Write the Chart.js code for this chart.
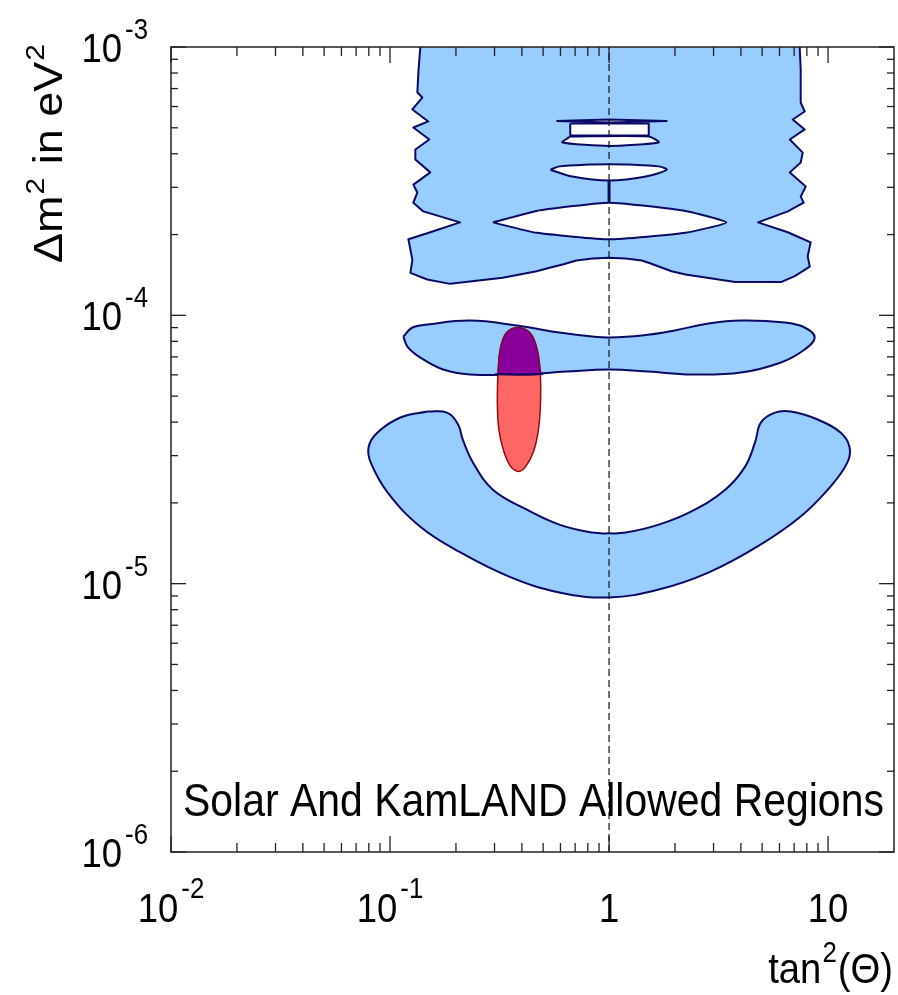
<!DOCTYPE html>
<html>
<head>
<meta charset="utf-8">
<script src="https://cdn.jsdelivr.net/npm/chart.js@4.4.1/dist/chart.umd.min.js"></script>
<style>
  html, body { margin: 0; padding: 0; background: #ffffff; }
  canvas { display: block; }
</style>
</head>
<body>
<canvas id="chart" width="898" height="995"></canvas>
<script>
// Contour vertices as [tan^2(theta), delta m^2 in eV^2]

// Solar allowed region, upper (above 1e-4 eV^2)
const upperRegion = [
  [0.1375, 1.2e-3], [0.1375, 1.0e-3], [0.1347, 8.04e-4], [0.1333, 6.77e-4], [0.1404, 6.48e-4],
  [0.1265, 5.85e-4], [0.1495, 5.28e-4], [0.1278, 5.01e-4], [0.1511, 4.52e-4], [0.1305, 4.15e-4],
  [0.1305, 3.81e-4], [0.1527, 3.41e-4], [0.1278, 3.07e-4], [0.1333, 2.87e-4], [0.1278, 2.63e-4],
  [0.1419, 2.44e-4], [0.2087, 2.22e-4], [0.1527, 2.04e-4], [0.1213, 1.92e-4], [0.1239, 1.76e-4],
  [0.1265, 1.61e-4], [0.1239, 1.44e-4], [0.1479, 1.36e-4], [0.1881, 1.31e-4], [0.327, 1.38e-4],
  [0.467, 1.46e-4], [0.53, 1.50e-4], [0.62, 1.55e-4], [0.709, 1.60e-4], [0.84, 1.63e-4],
  [1.0, 1.64e-4], [1.19, 1.63e-4], [1.411, 1.60e-4], [1.55, 1.56e-4], [1.686, 1.52e-4],
  [1.93, 1.46e-4], [2.235, 1.42e-4], [3.767, 1.33e-4], [6.09, 1.33e-4], [7.05, 1.40e-4],
  [8.25, 1.52e-4], [8.07, 1.66e-4], [8.33, 1.87e-4], [6.55, 2.04e-4], [4.79, 2.22e-4],
  [6.55, 2.44e-4], [7.74, 2.63e-4], [7.50, 2.77e-4], [7.91, 3.02e-4], [6.69, 3.41e-4],
  [7.50, 3.71e-4], [7.66, 4.04e-4], [6.69, 4.52e-4], [7.82, 4.93e-4], [6.90, 5.37e-4],
  [7.82, 5.75e-4], [7.50, 6.21e-4], [7.50, 8.24e-4], [7.42, 1.0e-3], [7.42, 1.2e-3]
];

// Excluded islands inside the upper region
const holeWide = [
  [0.295, 2.22e-4], [0.467, 2.45e-4], [1.0, 2.63e-4], [2.235, 2.45e-4],
  [3.43, 2.22e-4], [2.235, 2.03e-4], [1.0, 1.92e-4], [0.467, 2.03e-4]
];
const holeMid = [
  [0.540, 3.49e-4], [0.593, 3.59e-4], [0.811, 3.65e-4], [1.0, 3.66e-4], [1.232, 3.65e-4],
  [1.686, 3.59e-4], [1.832, 3.49e-4], [1.472, 3.29e-4], [1.0, 3.18e-4], [0.679, 3.29e-4]
];
const holeNeck = [[1.0, 2.63e-4], [1.0, 3.18e-4]];
const holeBar = [[0.575, 5.30e-4], [1.0, 5.37e-4], [1.832, 5.30e-4], [1.0, 5.23e-4]];
const holeBox = [[0.665, 5.19e-4], [1.518, 5.19e-4], [1.518, 4.68e-4], [0.665, 4.68e-4]];
const holeLow = [[0.665, 4.64e-4], [1.518, 4.64e-4], [1.686, 4.41e-4], [1.0, 4.28e-4], [0.612, 4.41e-4]];

// Solar allowed region, middle band (~6e-5 .. 1e-4 eV^2)
const middleBand = [
  [0.1151, 8.34e-5], [0.1265, 9.01e-5], [0.1479, 9.24e-5], [0.232, 9.56e-5], [0.379, 9.16e-5],
  [0.593, 8.63e-5], [0.838, 8.34e-5], [1.0, 8.27e-5], [1.411, 8.41e-5], [2.013, 8.80e-5],
  [2.841, 9.32e-5], [4.01, 9.56e-5], [6.35, 9.40e-5], [7.82, 9.01e-5], [8.69, 8.27e-5],
  [7.82, 7.46e-5], [6.09, 6.67e-5], [4.01, 6.12e-5], [2.378, 6.02e-5], [1.518, 6.17e-5],
  [1.0, 6.28e-5], [0.638, 6.17e-5], [0.391, 6.02e-5], [0.232, 6.02e-5], [0.1748, 6.28e-5],
  [0.1375, 6.96e-5], [0.120, 7.65e-5]
];

// Solar allowed region, lower arc (~9e-6 .. 4.5e-5 eV^2)
const lowerArc = [
  [0.1479, 4.38e-5], [0.182, 4.34e-5], [0.2045, 3.92e-5], [0.215, 3.44e-5], [0.239, 2.83e-5],
  [0.295, 2.24e-5], [0.420, 1.89e-5], [0.593, 1.66e-5], [0.838, 1.55e-5], [1.0, 1.54e-5],
  [1.194, 1.55e-5], [1.686, 1.66e-5], [2.378, 1.86e-5], [3.393, 2.24e-5], [4.18, 2.73e-5],
  [4.64, 3.36e-5], [4.94, 3.99e-5], [5.72, 4.34e-5], [6.76, 4.38e-5], [8.96, 4.09e-5],
  [11.40, 3.66e-5], [12.52, 3.24e-5], [12.26, 2.83e-5], [10.26, 2.30e-5], [7.50, 1.78e-5],
  [4.79, 1.38e-5], [2.841, 1.10e-5], [1.686, 9.51e-6], [1.0, 8.88e-6], [0.593, 9.27e-6],
  [0.352, 1.06e-5], [0.2087, 1.31e-5], [0.1375, 1.63e-5], [0.0974, 2.19e-5], [0.0816, 2.83e-5],
  [0.0799, 3.24e-5], [0.0877, 3.66e-5], [0.1116, 4.16e-5]
];

// KamLAND allowed region
const kamland = [
  [0.383, 9.01e-5], [0.434, 8.63e-5], [0.467, 7.59e-5], [0.484, 6.28e-5], [0.487, 4.86e-5],
  [0.476, 3.75e-5], [0.452, 3.11e-5], [0.416, 2.73e-5], [0.387, 2.62e-5], [0.356, 2.73e-5],
  [0.331, 3.11e-5], [0.314, 3.75e-5], [0.309, 4.86e-5], [0.312, 6.28e-5], [0.320, 7.59e-5],
  [0.341, 8.63e-5]
];
// Part of the KamLAND region shared with the middle solar band
const overlap = [
  [0.311, 6.03e-5], [0.312, 6.28e-5], [0.320, 7.59e-5], [0.341, 8.63e-5], [0.383, 9.01e-5],
  [0.434, 8.63e-5], [0.467, 7.59e-5], [0.484, 6.28e-5], [0.486, 6.03e-5]
];
const overlapEdge = [[0.30, 6.03e-5], [0.391, 6.02e-5], [0.50, 6.04e-5]];

// Maximal mixing reference line
const maxMixing = [[1.0, 1e-6], [1.0, 1e-3]];

// Axes
const xRange = [0.01, 20];
const yRange = [1e-6, 1e-3];
const xMajorTicks = [0.01, 0.1, 1, 10];
const xTickLabels = [['10', '-2'], ['10', '-1'], ['1', ''], ['10', '']];
const xMinorTicks = [0.02, 0.03, 0.04, 0.05, 0.06, 0.07, 0.08, 0.09,
                     0.2, 0.3, 0.4, 0.5, 0.6, 0.7, 0.8, 0.9,
                     2, 3, 4, 5, 6, 7, 8, 9];
const yMajorTicks = [1e-6, 1e-5, 1e-4, 1e-3];
const yTickLabels = [['10', '-6'], ['10', '-5'], ['10', '-4'], ['10', '-3']];
const yMinorTicks = [2e-6, 3e-6, 4e-6, 5e-6, 6e-6, 7e-6, 8e-6, 9e-6,
                     2e-5, 3e-5, 4e-5, 5e-5, 6e-5, 7e-5, 8e-5, 9e-5,
                     2e-4, 3e-4, 4e-4, 5e-4, 6e-4, 7e-4, 8e-4, 9e-4];
const plotCaption = 'Solar And KamLAND Allowed Regions';

const BLUE = '#99ccff';
const NAVY = '#0a0a66';
const FONT = '"Liberation Sans", Arial, Helvetica, sans-serif';
const SQUEEZE = 0.89;

const toXY = (pts, close) => {
  const arr = pts.map(([x, y]) => ({ x, y }));
  if (close) arr.push({ x: pts[0][0], y: pts[0][1] });
  return arr;
};

function area(pts, fillColor, lineColor, lineWidth, tension, order) {
  return {
    data: toXY(pts, true), showLine: true, fill: 'shape',
    backgroundColor: fillColor, borderColor: lineColor, borderWidth: lineWidth,
    tension: tension, pointRadius: 0, pointHoverRadius: 0, order: order,
    borderJoinStyle: 'round'
  };
}
function path(pts, lineColor, lineWidth, dash, order) {
  return {
    data: toXY(pts, false), showLine: true, fill: false,
    borderColor: lineColor, backgroundColor: lineColor, borderWidth: lineWidth,
    borderDash: dash, tension: 0, pointRadius: 0, pointHoverRadius: 0, order: order
  };
}

const datasets = [
  area(upperRegion, BLUE, NAVY, 2, 0, 30),
  area(holeWide, '#ffffff', NAVY, 2, 0.15, 29),
  area(holeMid, '#ffffff', NAVY, 2, 0.3, 29),
  path(holeNeck, NAVY, 3, [], 28),
  area(holeBar, '#ffffff', NAVY, 2, 0, 29),
  area(holeBox, '#ffffff', NAVY, 2, 0, 29),
  area(holeLow, '#ffffff', NAVY, 2, 0.2, 29),
  area(middleBand, BLUE, NAVY, 2, 0.4, 20),
  area(lowerArc, BLUE, NAVY, 2, 0.4, 20),
  area(kamland, '#ff6666', '#9a0a0a', 1.5, 0.4, 15),
  area(overlap, '#880099', '#7a0a3a', 1.5, 0.4, 14),
  path(overlapEdge, NAVY, 2, [], 13),
  path(maxMixing, '#111111', 1.2, [7, 4], 1)
];

function drawText(ctx, s, x, y, size, align) {
  ctx.save();
  ctx.font = size + 'px ' + FONT;
  ctx.textAlign = align;
  ctx.textBaseline = 'alphabetic';
  ctx.translate(x, y);
  ctx.scale(SQUEEZE, 1);
  ctx.fillText(s, 0, 0);
  ctx.restore();
}
function textWidth(ctx, s, size) {
  ctx.save();
  ctx.font = size + 'px ' + FONT;
  const w = ctx.measureText(s).width * SQUEEZE;
  ctx.restore();
  return w;
}

const framePlugin = {
  id: 'frameAndLabels',
  afterDraw(chart) {
    const ctx = chart.ctx;
    const a = chart.chartArea;
    const xs = chart.scales.x, ys = chart.scales.y;
    ctx.save();
    ctx.strokeStyle = '#222222';
    ctx.fillStyle = '#000000';
    ctx.lineWidth = 1.5;
    ctx.strokeRect(a.left, a.top, a.right - a.left, a.bottom - a.top);

    const seg = (x1, y1, x2, y2) => {
      ctx.beginPath(); ctx.moveTo(x1, y1); ctx.lineTo(x2, y2); ctx.stroke();
    };
    ctx.lineWidth = 1.3;
    xMajorTicks.forEach(v => {
      const px = xs.getPixelForValue(v);
      seg(px, a.bottom, px, a.bottom - 16);
      seg(px, a.top, px, a.top + 16);
    });
    xMinorTicks.forEach(v => {
      const px = xs.getPixelForValue(v);
      seg(px, a.bottom, px, a.bottom - 9);
      seg(px, a.top, px, a.top + 9);
    });
    yMajorTicks.forEach(v => {
      const py = ys.getPixelForValue(v);
      seg(a.left, py, a.left + 15, py);
      seg(a.right, py, a.right - 15, py);
    });
    yMinorTicks.forEach(v => {
      const py = ys.getPixelForValue(v);
      seg(a.left, py, a.left + 7, py);
      seg(a.right, py, a.right - 7, py);
    });

    // Tick labels with superscript exponents
    const MAIN = 41, SUP = 29;
    yMajorTicks.forEach((v, i) => {
      const py = ys.getPixelForValue(v);
      const [base, exp] = yTickLabels[i];
      const right = a.left - 23;
      const ew = textWidth(ctx, exp, SUP);
      drawText(ctx, exp, right - ew, py - 8, SUP, 'left');
      drawText(ctx, base, right - ew - 3, py + 15, MAIN, 'right');
    });
    xMajorTicks.forEach((v, i) => {
      const px = xs.getPixelForValue(v);
      const [base, exp] = xTickLabels[i];
      const bw = textWidth(ctx, base, MAIN);
      const ew = exp ? textWidth(ctx, exp, SUP) + 3 : 0;
      const start = px - (bw + ew) / 2;
      drawText(ctx, base, start, a.bottom + 70, MAIN, 'left');
      if (exp) drawText(ctx, exp, start + bw + 3, a.bottom + 46, SUP, 'left');
    });

    // Axis titles
    const tw1 = textWidth(ctx, 'tan', 43), tw2 = textWidth(ctx, '2', 29), tw3 = textWidth(ctx, '(\u0398)', 43);
    const tEnd = a.right - 1;
    const tStart = tEnd - (tw1 + tw2 + tw3 + 2);
    drawText(ctx, 'tan', tStart, 983, 43, 'left');
    drawText(ctx, '2', tStart + tw1 + 1, 962, 29, 'left');
    drawText(ctx, '(\u0398)', tStart + tw1 + tw2 + 2, 983, 43, 'left');

    ctx.save();
    ctx.translate(62, 263);
    ctx.rotate(-Math.PI / 2);
    ctx.scale(1, SQUEEZE);
    ctx.textAlign = 'left';
    ctx.textBaseline = 'alphabetic';
    ctx.font = '45px ' + FONT;
    const p1 = '\u0394m', p2 = ' in eV';
    const w1 = ctx.measureText(p1).width;
    ctx.fillText(p1, 0, 0);
    ctx.font = '30px ' + FONT;
    const ws = ctx.measureText('2').width;
    ctx.fillText('2', w1 + 1, -20);
    ctx.font = '45px ' + FONT;
    const w2 = ctx.measureText(p2).width;
    ctx.fillText(p2, w1 + ws + 2, 0);
    ctx.font = '30px ' + FONT;
    ctx.fillText('2', w1 + ws + w2 + 3, -20);
    ctx.restore();

    // Caption inside the plot
    drawText(ctx, plotCaption, a.left + 12, 816, 46, 'left');
    ctx.restore();
  }
};

new Chart(document.getElementById('chart'), {
  type: 'scatter',
  data: { datasets },
  options: {
    responsive: false,
    animation: false,
    events: [],
    layout: { padding: { left: 171, right: 4, top: 47, bottom: 143 } },
    scales: {
      x: { type: 'logarithmic', min: xRange[0], max: xRange[1], display: false },
      y: { type: 'logarithmic', min: yRange[0], max: yRange[1], display: false }
    },
    plugins: {
      legend: { display: false },
      tooltip: { enabled: false }
    }
  },
  plugins: [framePlugin]
});
</script>
</body>
</html>
